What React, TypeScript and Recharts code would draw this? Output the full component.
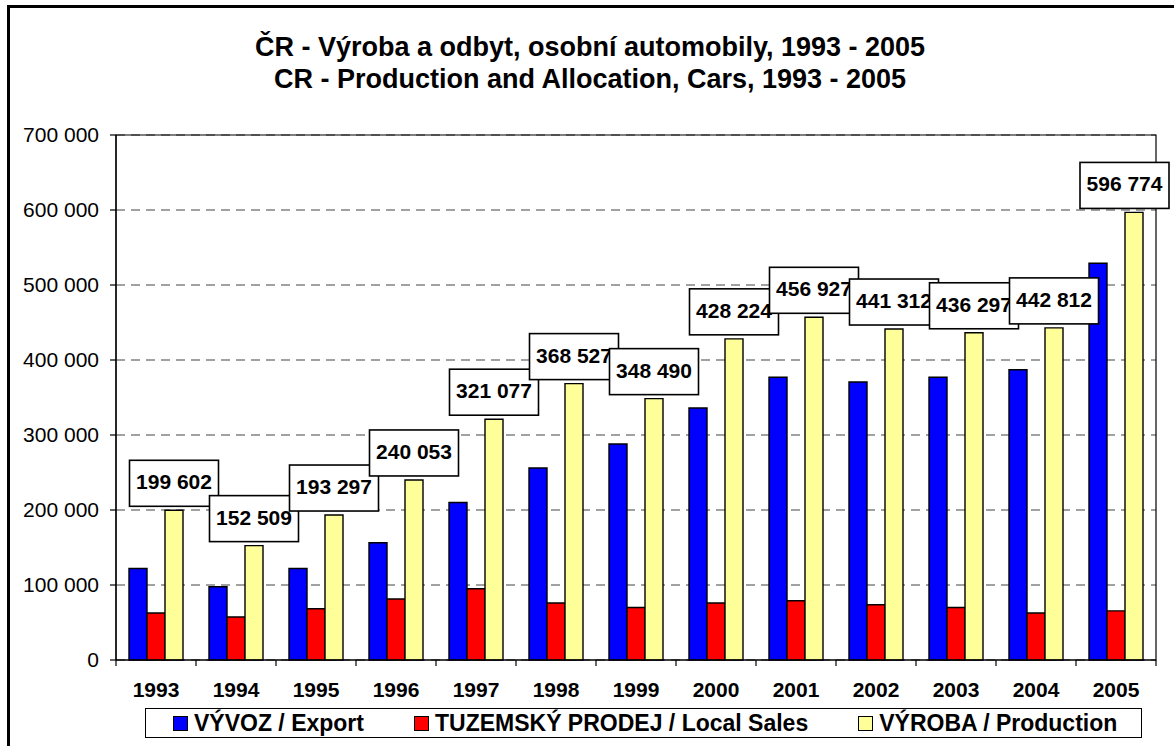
import {
  Bar,
  BarChart,
  CartesianGrid,
  LabelList,
  Legend,
  ReferenceArea,
  XAxis,
  YAxis,
} from "recharts";

// Values (production labels are printed there)
const years = ["1993", "1994", "1995", "1996", "1997", "1998", "1999", "2000", "2001", "2002", "2003", "2004", "2005"];
const exportCars = [122000, 97600, 122000, 156400, 210000, 256000, 288000, 336000, 377000, 370600, 377000, 387000, 529000];
const localSales = [62700, 57400, 68400, 81300, 95000, 76000, 70000, 76000, 79000, 73600, 70000, 62600, 65500];
const production = [199602, 152509, 193297, 240053, 321077, 368527, 348490, 428224, 456927, 441312, 436297, 442812, 596774];
const yTicks = [0, 100000, 200000, 300000, 400000, 500000, 600000, 700000];

const titleLines = [
  "ČR - Výroba a odbyt, osobní automobily, 1993 - 2005",
  "CR - Production and Allocation, Cars, 1993 - 2005",
];

const SERIES = [
  { key: "export", name: "VÝVOZ / Export", color: "#0000ff" },
  { key: "local", name: "TUZEMSKÝ PRODEJ / Local Sales", color: "#ff0000" },
  { key: "production", name: "VÝROBA / Production", color: "#ffff99" },
];

const FONT = '"Liberation Sans", Arial, Helvetica, sans-serif';
const W = 1174;
const H = 746;

const data = years.map((year, i) => ({
  year,
  export: exportCars[i],
  local: localSales[i],
  production: production[i],
}));

function spaced(v: number) {
  return String(Math.round(v)).replace(/\B(?=(\d{3})+(?!\d))/g, " ");
}

// year label plus tick marks on the category boundaries (Excel style)
function YearTick(props: any) {
  const { x, y, payload, index, visibleTicksCount } = props;
  const half = payload?.offset || 40;
  const axisY = y - 6;
  const isLast = index === (visibleTicksCount ?? years.length) - 1;
  return (
    <g>
      <line x1={x - half} x2={x - half} y1={axisY} y2={axisY + 6} stroke="#000" strokeWidth={1.2} />
      {isLast && <line x1={x + half} x2={x + half} y1={axisY} y2={axisY + 6} stroke="#000" strokeWidth={1.2} />}
      <text
        x={x}
        y={axisY + 37}
        textAnchor="middle"
        fontFamily={FONT}
        fontSize={21}
        fontWeight="bold"
        fill="#000"
      >
        {payload.value}
      </text>
    </g>
  );
}

function ValueBox(props: any) {
  const { x, y, width, value } = props;
  const w = 89;
  const h = 46;
  let left = Number(x) + Number(width) / 2 - w / 2;
  left = Math.min(left, W - 5 - w);
  const bottom = Number(y) - 4;
  return (
    <g>
      <rect x={left} y={bottom - h} width={w} height={h} fill="#fff" stroke="#000" strokeWidth={1.6} />
      <text
        x={left + w / 2}
        y={bottom - h / 2 + 6}
        textAnchor="middle"
        fontFamily={FONT}
        fontSize={21}
        fontWeight="bold"
        fill="#000"
      >
        {spaced(value)}
      </text>
    </g>
  );
}

// keeps the series order of the source legend
function LegendBox() {
  return (
    <div
      style={{
        boxSizing: "border-box",
        width: 997,
        height: 30,
        border: "1.5px solid #000",
        background: "#fff",
        display: "flex",
        alignItems: "center",
        paddingLeft: 27,
        gap: 50,
        fontFamily: FONT,
        fontWeight: "bold",
        fontSize: 23,
        color: "#000",
        whiteSpace: "nowrap",
      }}
    >
      {SERIES.map((s) => (
        <span key={s.key} style={{ display: "flex", alignItems: "center" }}>
          <span
            style={{
              display: "inline-block",
              boxSizing: "border-box",
              width: 15,
              height: 15,
              background: s.color,
              border: "1px solid #000",
              marginRight: 6,
            }}
          />
          {s.name}
        </span>
      ))}
    </div>
  );
}

export default function App() {
  return (
    <div
      style={{
        position: "absolute",
        left: 0,
        top: 0,
        width: W,
        height: H,
        overflow: "hidden",
        background: "#fff",
      }}
    >
      {/* outer chart frame, cut off at right and bottom like the source */}
      <div
        style={{
          position: "absolute",
          left: 7,
          top: 5,
          width: W + 40,
          height: H + 40,
          border: "3px solid #000",
        }}
      />
      {titleLines.map((t, i) => (
        <div
          key={i}
          style={{
            position: "absolute",
            left: 0,
            width: 1180,
            top: 31 + i * 32,
            textAlign: "center",
            fontFamily: FONT,
            fontWeight: "bold",
            fontSize: 27,
            lineHeight: "32px",
            color: "#000",
          }}
        >
          {t}
        </div>
      ))}
      <div style={{ position: "absolute", left: 0, top: 0 }}>
        <BarChart
          width={W}
          height={H}
          data={data}
          margin={{ top: 135, right: 18, bottom: 46, left: 16 }}
          barGap={0}
          barSize={18}
        >
          <CartesianGrid
            horizontal
            vertical={false}
            stroke="#444"
            strokeWidth={1.2}
            strokeDasharray="9 6"
          />
          <ReferenceArea y1={0} y2={700000} fill="none" stroke="#000" strokeWidth={1.2} />
          <XAxis
            dataKey="year"
            height={40}
            axisLine={{ stroke: "#000", strokeWidth: 1.2 }}
            tickLine={false}
            tickSize={6}
            tickMargin={0}
            interval={0}
            tick={<YearTick />}
          />
          <YAxis
            width={100}
            domain={[0, 700000]}
            ticks={yTicks}
            interval={0}
            axisLine={{ stroke: "#000", strokeWidth: 1.2 }}
            tickLine={{ stroke: "#000", strokeWidth: 1.2 }}
            tickSize={6}
            tickMargin={11}
            tickFormatter={spaced}
            tick={{ fontFamily: FONT, fontSize: 21, fill: "#000" }}
          />
          <Legend
            layout="horizontal"
            verticalAlign="middle"
            align="center"
            content={<LegendBox />}
            wrapperStyle={{ left: 145, top: 708, width: 997, height: 30 }}
          />
          {SERIES.map((s) => (
            <Bar
              key={s.key}
              dataKey={s.key}
              name={s.name}
              fill={s.color}
              stroke="#000"
              strokeWidth={1.4}
              isAnimationActive={false}
            >
              {s.key === "production" && (
                <LabelList dataKey="production" content={<ValueBox />} />
              )}
            </Bar>
          ))}
        </BarChart>
      </div>
    </div>
  );
}
